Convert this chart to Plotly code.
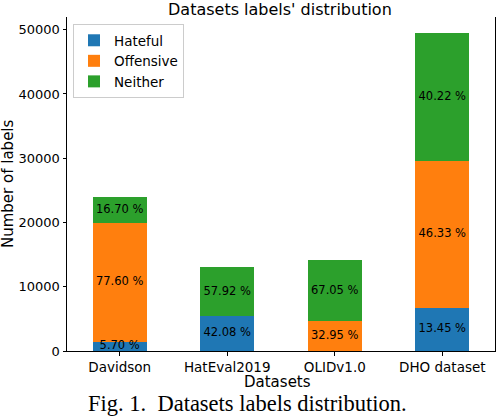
import plotly.graph_objects as go

# label counts per dataset
datasets = ["Davidson", "HatEval2019", "OLIDv1.0", "DHO dataset"]
hateful = [1368, 5470, 0, 6658]
offensive = [18624, 0, 4640, 22933]
neither = [4008, 7530, 9460, 19909]

# percentage labels printed on the segments
hateful_pct = ["5.70 %", "42.08 %", "", "13.45 %"]
offensive_pct = ["77.60 %", "", "32.95 %", "46.33 %"]
neither_pct = ["16.70 %", "57.92 %", "67.05 %", "40.22 %"]

y_ticks = [0, 10000, 20000, 30000, 40000, 50000]

colors = {"Hateful": "#1f77b4", "Offensive": "#ff7f0e", "Neither": "#2ca02c"}
font = "DejaVu Sans"

fig = go.Figure()
for name, vals in [("Hateful", hateful), ("Offensive", offensive), ("Neither", neither)]:
    fig.add_trace(go.Bar(x=datasets, y=vals, name=name, width=0.5,
                         marker=dict(color=colors[name], line=dict(width=0))))

# centred percentage text in each segment
mids, texts, xs = [], [], []
for i, d in enumerate(datasets):
    base = 0
    for vals, pct in [(hateful, hateful_pct), (offensive, offensive_pct), (neither, neither_pct)]:
        if pct[i]:
            xs.append(d)
            mids.append(base + vals[i] / 2)
            texts.append(pct[i])
        base += vals[i]
fig.add_trace(go.Scatter(x=xs, y=mids, text=texts, mode="text", showlegend=False,
                         textfont=dict(family=font, size=11.5, color="black"),
                         hoverinfo="skip"))

# plot area in pixels: x 67..495, y 17..351
def px_x(p):
    return (p - 67) / 428

def px_y(p):
    return (351 - p) / 334

fig.update_layout(
    barmode="stack",
    width=496, height=418,
    margin=dict(l=67, r=1, t=17, b=67),
    paper_bgcolor="white", plot_bgcolor="white",
    font=dict(family=font, size=13.5, color="black"),
    legend=dict(x=px_x(73), y=px_y(24), xanchor="left", yanchor="top",
                bgcolor="rgba(255,255,255,0.8)", bordercolor="#cccccc", borderwidth=1,
                traceorder="normal", font=dict(size=13.5), tracegroupgap=0),
    xaxis=dict(range=[-0.49, 3.49], showline=True, linecolor="black", linewidth=1,
               ticks="outside", ticklen=3.5, tickcolor="black", showgrid=False,
               automargin=False, tickfont=dict(size=13.5)),
    yaxis=dict(range=[0, 51975], tickvals=y_ticks, tickformat="d", showline=True, mirror=True,
               linecolor="black", linewidth=1, ticks="outside", ticklen=3.5,
               tickcolor="black", showgrid=False, zeroline=False, automargin=False,
               tickfont=dict(size=13)),
    annotations=[
        dict(text="Datasets labels' distribution", xref="paper", yref="paper",
             x=px_x(280), y=px_y(21), xanchor="center", yanchor="bottom", showarrow=False,
             font=dict(family=font, size=16, color="black")),
        dict(text="Datasets", xref="paper", yref="paper", x=px_x(277), y=px_y(382),
             xanchor="center", yanchor="middle", showarrow=False,
             font=dict(family=font, size=15, color="black")),
        dict(text="Number of labels", xref="paper", yref="paper", x=px_x(8), y=px_y(184),
             xanchor="center", yanchor="middle", textangle=-90, showarrow=False,
             font=dict(family=font, size=15, color="black")),
        dict(text="Fig. 1.\u00a0 Datasets labels distribution.", xref="paper", yref="paper",
             x=px_x(247), y=px_y(418), xanchor="center", yanchor="bottom",
             showarrow=False, font=dict(family="Liberation Serif", size=22.5, color="black")),
    ],
)

# drop the default 8px page margin so the figure sits at the window's corner
fig.write_html("out.html", config={"displayModeBar": False},
               post_script="document.body.style.margin='0';")
